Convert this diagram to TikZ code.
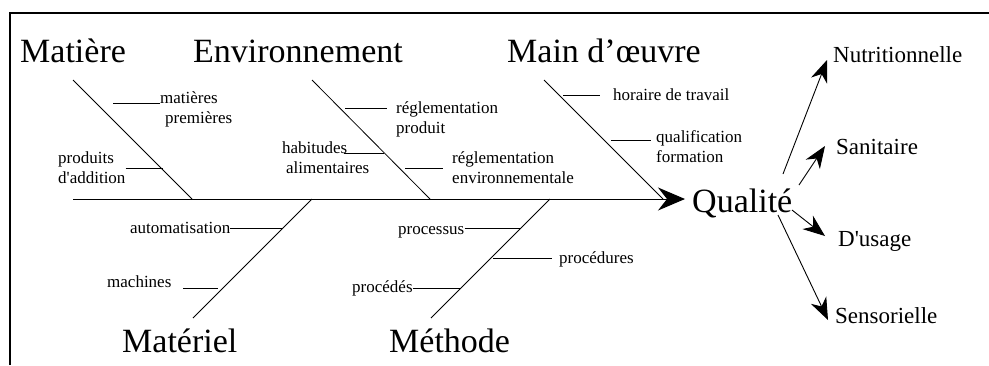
\documentclass[tikz,border=0pt]{standalone}
\usepackage{fontspec}
\setmainfont{Liberation Serif}
\usetikzlibrary{arrows.meta}

\begin{document}
\begin{tikzpicture}[x=1pt,y=-1pt,
	cause/.style={font=\fontsize{34}{36}\selectfont,inner sep=0pt,anchor=base west},
	effet/.style={font=\fontsize{23}{25}\selectfont,inner sep=0pt,anchor=base west},
	item/.style={font=\fontsize{17}{20}\selectfont,inner sep=0pt,anchor=base west,align=left},
	bone/.style={line width=0.8pt},
	twig/.style={line width=1pt},
	spine/.style={line width=1pt,-{Stealth[length=27pt,width=23pt,inset=9pt]}},
	sortie/.style={line width=0.9pt,-{Stealth[length=22pt,width=17pt,inset=7pt]}}]
	\useasboundingbox (0,0) rectangle (989,365);
	\draw[line width=1.2pt] (10,365) -- (10,13) -- (989,13);
	% causes
	\node[cause] (mat) at (20,62) {Matière};
	\node[cause] (env) at (193,62) {Environnement};
	\node[cause] (mo) at (507,62) {Main d’œuvre};
	\node[cause] (mtl) at (122,352) {Matériel};
	\node[cause] (meth) at (389,352) {Méthode};
	\node[cause] (qual) at (692,212) {Qualité};
	% spine and bones
	\coordinate (tail) at (73,199);
	\draw[spine,shorten >=7pt] (tail) -- (tail -| qual.west);
	\coordinate (mat1) at (73,80);   \coordinate (mat2) at (192,199);
	\coordinate (env1) at (312,80);  \coordinate (env2) at (430,199);
	\coordinate (mo1) at (544,80);   \coordinate (mo2) at (663,199);
	\coordinate (mtl1) at (312,199); \coordinate (mtl2) at (193,318);
	\coordinate (meth1) at (550,199); \coordinate (meth2) at (431,318);
	\draw[bone] (mat1) -- (mat2);
	\draw[bone] (env1) -- (env2);
	\draw[bone] (mo1) -- (mo2);
	\draw[bone] (mtl1) -- (mtl2);
	\draw[bone] (meth1) -- (meth2);
	% sub causes (base = last line)
	\node[item] (mp) at (160,123) {matières\\\hspace*{5pt}premières};
	\node[item] (pa) at (58,183) {produits\\d\textquotesingle addition};
	\node[item] (rp) at (396,133) {réglementation\\produit};
	\node[item] (ha) at (282,173) {habitudes\\\hspace*{4pt}alimentaires};
	\node[item] (re) at (452,183) {réglementation\\environnementale};
	\node[item] (ht) at (613,100) {horaire de travail};
	\node[item] (qf) at (656,162) {qualification\\formation};
	\node[item] (au) at (130,233) {automatisation};
	\node[item] (ma) at (107,287) {machines};
	\node[item] (pr) at (398,234) {processus};
	\node[item] (pd) at (559,263) {procédures};
	\node[item] (ps) at (352,292) {procédés};
	\coordinate (mpA) at (113,103); \coordinate (paB) at (163,168);
	\coordinate (rpA) at (345,108); \coordinate (rpB) at (387,108);
	\coordinate (haA) at (344,153); \coordinate (haB) at (384,153);
	\coordinate (reA) at (405,168); \coordinate (reB) at (443,168);
	\coordinate (htA) at (563,95);  \coordinate (htB) at (600,95);
	\coordinate (qfA) at (611,140); \coordinate (qfB) at (651,140);
	\coordinate (auB) at (283,228); \coordinate (maA) at (183,288);
	\coordinate (maB) at (218,288); \coordinate (prB) at (521,228);
	\coordinate (pdA) at (493,258); \coordinate (pdB) at (552,258);
	\coordinate (psB) at (461,288);
	\draw[twig] (mpA) -- (mp.west |- mpA);
	\draw[twig] (pa.east |- paB) -- (paB);
	\draw[twig] (rpA) -- (rpB);
	\draw[twig] (haA) -- (haB);
	\draw[twig] (reA) -- (reB);
	\draw[twig] (htA) -- (htB);
	\draw[twig] (qfA) -- (qfB);
	\draw[twig] (au.east |- auB) -- (auB);
	\draw[twig] (maA) -- (maB);
	\draw[twig] (pr.east |- prB) -- (prB);
	\draw[twig] (pdA) -- (pdB);
	\draw[twig] (ps.east |- psB) -- (psB);
	% effects
	\node[effet] (nut) at (833,62) {Nutritionnelle};
	\node[effet] (san) at (836,154) {Sanitaire};
	\node[effet] (usa) at (838,246) {D\textquotesingle usage};
	\node[effet] (sen) at (835,323) {Sensorielle};
	\coordinate (q1) at (783,174); \coordinate (n1) at (827,60);
	\coordinate (q2) at (799,185); \coordinate (s2) at (825,146);
	\coordinate (q3) at (792,210); \coordinate (u3) at (825,236);
	\coordinate (q4) at (778,215); \coordinate (s4) at (828,320);
	\draw[sortie] (q1) -- (n1);
	\draw[sortie] (q2) -- (s2);
	\draw[sortie] (q3) -- (u3);
	\draw[sortie] (q4) -- (s4);
\end{tikzpicture}
\end{document}
